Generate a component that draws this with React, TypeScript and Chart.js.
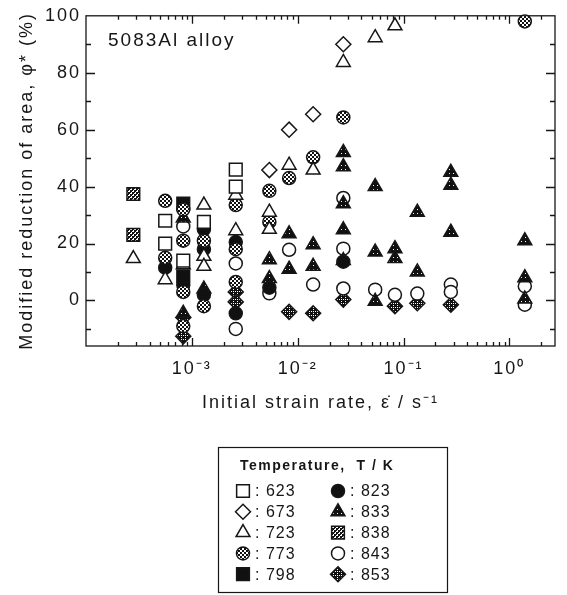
import React, { useEffect, useRef } from 'react';
import { Chart, registerables } from 'chart.js';
import { drawPoint } from 'chart.js/helpers';

Chart.register(...registerables);

type Pt = [number, number];

// ---- data (strain rate [s^-1], modified reduction of area [%]) ----
const TEMPS = ['623', '673', '723', '773', '798', '823', '833', '838', '843', '853'];

const t623: Pt[] = [[5.6e-4, 28], [5.6e-4, 20], [8.3e-4, 14], [1.3e-3, 27.6], [2.6e-3, 46], [2.6e-3, 40]];
const t673: Pt[] = [[5.4e-3, 45.8], [8.3e-3, 60], [1.4e-2, 65.4], [2.7e-2, 90]];
const t723: Pt[] = [
  [2.8e-4, 14.7], [5.6e-4, 7.3], [8.3e-4, 12.5], [1.3e-3, 33.5], [1.3e-3, 15.5], [1.3e-3, 12],
  [2.6e-3, 37], [2.6e-3, 24.5], [5.4e-3, 31], [5.4e-3, 25], [8.3e-3, 47.5], [1.4e-2, 45.8],
  [2.7e-2, 83.6], [5.4e-2, 92.3], [8.3e-2, 96.5],
];
const t773: Pt[] = [
  [5.6e-4, 35], [5.6e-4, 15], [8.3e-4, 32], [8.3e-4, 21], [8.3e-4, 3], [8.3e-4, -9],
  [1.3e-3, 21], [1.3e-3, -2], [2.6e-3, 33.5], [2.6e-3, 18], [2.6e-3, 6.5], [5.4e-3, 38.5],
  [5.4e-3, 27.6], [8.3e-3, 43], [1.4e-2, 50.3], [2.7e-2, 64.3], [1.4, 98],
];
const t798: Pt[] = [[8.3e-4, 34], [8.3e-4, 8.5]];
const t823: Pt[] = [
  [5.6e-4, 11.5], [8.3e-4, 5.5], [1.3e-3, 25], [1.3e-3, 18], [1.3e-3, 2], [2.6e-3, 20.5],
  [2.6e-3, -4.5], [5.4e-3, 4.5], [2.7e-2, 13.6],
];
const t833: Pt[] = [
  [8.3e-4, 29], [8.3e-4, -4.5], [1.3e-3, 4], [5.4e-3, 14.3], [5.4e-3, 7.7], [8.3e-3, 23.4],
  [8.3e-3, 11], [1.4e-2, 19.6], [1.4e-2, 12], [2.7e-2, 52], [2.7e-2, 47], [2.7e-2, 34],
  [2.7e-2, 24.8], [2.7e-2, 14], [5.4e-2, 40], [5.4e-2, 17], [5.4e-2, -0.3], [8.3e-2, 18.2],
  [8.3e-2, 14.7], [0.135, 31], [0.135, 10], [0.28, 45], [0.28, 40.5], [0.28, 24],
  [1.4, 21], [1.4, 8], [1.4, 0.5],
];
const t838: Pt[] = [[2.8e-4, 37.4], [2.8e-4, 23]];
const t843: Pt[] = [
  [8.3e-4, 26], [2.6e-3, 13], [2.6e-3, -10], [5.4e-3, 2.5], [8.3e-3, 17.8], [1.4e-2, 5.6],
  [2.7e-2, 36], [2.7e-2, 18.2], [2.7e-2, 4.2], [5.4e-2, 3.8], [8.3e-2, 2], [0.135, 2.4],
  [0.28, 5.6], [0.28, 3], [1.4, 5], [1.4, -1.5],
];
const t853: Pt[] = [
  [8.3e-4, -6], [8.3e-4, -12.6], [2.6e-3, 3], [2.6e-3, -0.5], [8.3e-3, -4], [1.4e-2, -4.5],
  [2.7e-2, 0.3], [8.3e-2, -2], [0.135, -1], [0.28, -1.5],
];

const SERIES: Pt[][] = [t623, t673, t723, t773, t798, t823, t833, t838, t843, t853];

const X_TICKS = [1e-3, 1e-2, 1e-1, 1];
const X_TICK_LABELS = ['10⁻³', '10⁻²', '10⁻¹', '10⁰'];
const Y_TICKS = [0, 20, 40, 60, 80, 100];
const X_MIN = 1e-4;
const X_MAX = 2.7;
const Y_MIN = -16;
const Y_MAX = 100;

const X_TITLE = 'Initial strain rate, ε\u0307 / s⁻¹';
const Y_TITLE = 'Modified reduction of area, φ* (%)';
const ALLOY = '5083Al alloy';
const LEGEND_TITLE = 'Temperature,  T / K';

const FONT = '"Liberation Sans", Arial, Helvetica, sans-serif';
const INK = '#161616';

function makePattern(bg: string, fg: string, size: number, cells: number[][]): CanvasPattern | string {
  const c = document.createElement('canvas');
  c.width = size;
  c.height = size;
  const g = c.getContext('2d');
  if (!g) return fg;
  g.fillStyle = bg;
  g.fillRect(0, 0, size, size);
  g.fillStyle = fg;
  cells.forEach(([x, y, w, h]) => g.fillRect(x, y, w, h));
  return g.createPattern(c, 'repeat') || fg;
}

const framePlugin = {
  id: 'frameTicks',
  beforeDraw(chart: any) {
    chart.ctx.letterSpacing = '2px';
  },
  beforeDatasetsDraw(chart: any) {
    const { ctx, chartArea: a, scales } = chart;
    const xs = scales.x;
    const ys = scales.y;
    ctx.save();
    ctx.strokeStyle = INK;
    ctx.lineWidth = 1.3;
    ctx.strokeRect(a.left, a.top, a.right - a.left, a.bottom - a.top);
    ctx.beginPath();
    for (let e = -4; e <= 0; e++) {
      for (let m = 1; m <= 9; m++) {
        const v = m * Math.pow(10, e);
        if (v <= X_MIN * 1.0001 || v >= X_MAX) continue;
        const px = Math.round(xs.getPixelForValue(v)) + 0.5;
        const len = m === 1 ? 8 : 4;
        ctx.moveTo(px, a.bottom);
        ctx.lineTo(px, a.bottom - len);
        ctx.moveTo(px, a.top);
        ctx.lineTo(px, a.top + len);
      }
    }
    for (let v = -10; v < Y_MAX; v += 10) {
      const py = Math.round(ys.getPixelForValue(v)) + 0.5;
      const len = v % 20 === 0 ? 9 : 5;
      ctx.moveTo(a.left, py);
      ctx.lineTo(a.left + len, py);
      ctx.moveTo(a.right, py);
      ctx.lineTo(a.right - len, py);
    }
    ctx.stroke();
    // alloy annotation
    ctx.fillStyle = INK;
    ctx.font = `19px ${FONT}`;
    ctx.letterSpacing = '2px';
    ctx.textAlign = 'left';
    ctx.textBaseline = 'alphabetic';
    ctx.fillText(ALLOY, 108, 46);
    ctx.restore();
  },
  afterDraw(chart: any) {
    const ctx = chart.ctx;
    ctx.save();
    ctx.strokeStyle = INK;
    ctx.lineWidth = 1.2;
    ctx.strokeRect(218.5, 447.5, 229, 145);
    ctx.fillStyle = INK;
    ctx.font = `bold 14px ${FONT}`;
    ctx.letterSpacing = '1.5px';
    ctx.textAlign = 'left';
    ctx.textBaseline = 'middle';
    ctx.fillText(LEGEND_TITLE, 240, 466);
    chart.data.datasets.forEach((ds: any, i: number) => {
      const col = Math.floor(i / 5);
      const row = i % 5;
      const sx = 243 + col * 95;
      const sy = 491 + row * 20.8;
      ctx.fillStyle = ds.pointBackgroundColor;
      ctx.strokeStyle = ds.pointBorderColor;
      ctx.lineWidth = ds.pointBorderWidth;
      drawPoint(ctx, { pointStyle: ds.pointStyle, radius: ds.pointRadius, rotation: 0, borderWidth: ds.pointBorderWidth } as any, sx, sy);
      ctx.fillStyle = INK;
      ctx.font = `16px ${FONT}`;
      ctx.letterSpacing = '1px';
      ctx.textAlign = 'left';
      ctx.textBaseline = 'middle';
      ctx.fillText(': ' + ds.label, sx + 12, sy + 1);
    });
    ctx.restore();
  },
};

export default function App() {
  const ref = useRef<HTMLCanvasElement | null>(null);

  useEffect(() => {
    if (!ref.current) return;
    const p773 = makePattern('#ffffff', '#111111', 4, [[0, 0, 2, 2], [2, 2, 2, 2]]);
    const p838 = makePattern('#ffffff', '#111111', 4, [[0, 0, 2, 2], [2, 2, 2, 2], [2, 0, 1, 1], [0, 2, 1, 1]]);
    const p853 = makePattern('#111111', '#ffffff', 4, [[1, 1, 1, 1], [3, 3, 1, 1], [1, 3, 1, 1]]);
    const p833 = makePattern('#111111', '#ffffff', 4, [[1, 1, 1, 1]]);

    const styles: { shape: string; r: number; fill: any }[] = [
      { shape: 'rect', r: 9, fill: '#ffffff' },
      { shape: 'rectRot', r: 7.5, fill: '#ffffff' },
      { shape: 'triangle', r: 8, fill: '#ffffff' },
      { shape: 'circle', r: 6.5, fill: p773 },
      { shape: 'rect', r: 9, fill: '#111111' },
      { shape: 'circle', r: 6.5, fill: '#111111' },
      { shape: 'triangle', r: 8, fill: p833 },
      { shape: 'rect', r: 9, fill: p838 },
      { shape: 'circle', r: 6.5, fill: '#ffffff' },
      { shape: 'rectRot', r: 7.5, fill: p853 },
    ];

    const datasets = SERIES.map((pts, i) => ({
      label: TEMPS[i],
      data: pts.map(([x, y]) => ({ x, y })),
      pointStyle: styles[i].shape,
      pointRadius: styles[i].r,
      pointHoverRadius: styles[i].r,
      pointBackgroundColor: styles[i].fill,
      pointBorderColor: INK,
      pointBorderWidth: 1.5,
      showLine: false,
      clip: false as any,
    }));

    const chart = new Chart(ref.current, {
      type: 'scatter',
      data: { datasets },
      options: {
        animation: false,
        responsive: true,
        maintainAspectRatio: false,
        devicePixelRatio: 1,
        layout: { padding: { left: 0, right: 12, top: 13, bottom: 169 } },
        plugins: { legend: { display: false }, tooltip: { enabled: false } },
        scales: {
          x: {
            type: 'logarithmic',
            min: X_MIN,
            max: X_MAX,
            grid: { display: false, drawTicks: false },
            border: { display: false },
            afterBuildTicks: (s: any) => {
              s.ticks = X_TICKS.map((v) => ({ value: v }));
            },
            afterFit: (s: any) => {
              s.height = 80;
            },
            ticks: {
              autoSkip: false,
              maxRotation: 0,
              padding: 12,
              color: INK,
              font: { family: FONT, size: 18 },
              callback: (v: any) => {
                const idx = X_TICKS.findIndex((t) => Math.abs(Math.log10(t) - Math.log10(Number(v))) < 1e-6);
                return idx >= 0 ? X_TICK_LABELS[idx] : '';
              },
            },
            title: {
              display: true,
              text: X_TITLE,
              color: INK,
              font: { family: FONT, size: 18 },
              padding: { top: 4, bottom: 12 },
            },
          },
          y: {
            type: 'linear',
            min: Y_MIN,
            max: Y_MAX,
            grid: { display: false, drawTicks: false },
            border: { display: false },
            afterBuildTicks: (s: any) => {
              s.ticks = Y_TICKS.map((v) => ({ value: v }));
            },
            afterFit: (s: any) => {
              s.width = 86;
            },
            ticks: {
              autoSkip: false,
              padding: 5,
              color: INK,
              font: { family: FONT, size: 18 },
            },
            title: {
              display: true,
              text: Y_TITLE,
              color: INK,
              font: { family: FONT, size: 18 },
              padding: { top: 16, bottom: 4 },
            },
          },
        },
      },
      plugins: [framePlugin],
    } as any);

    return () => chart.destroy();
  }, []);

  return (
    <div style={{ position: 'absolute', left: 0, top: 0, width: 567, height: 595, background: '#fff' }}>
      <canvas ref={ref} />
    </div>
  );
}
